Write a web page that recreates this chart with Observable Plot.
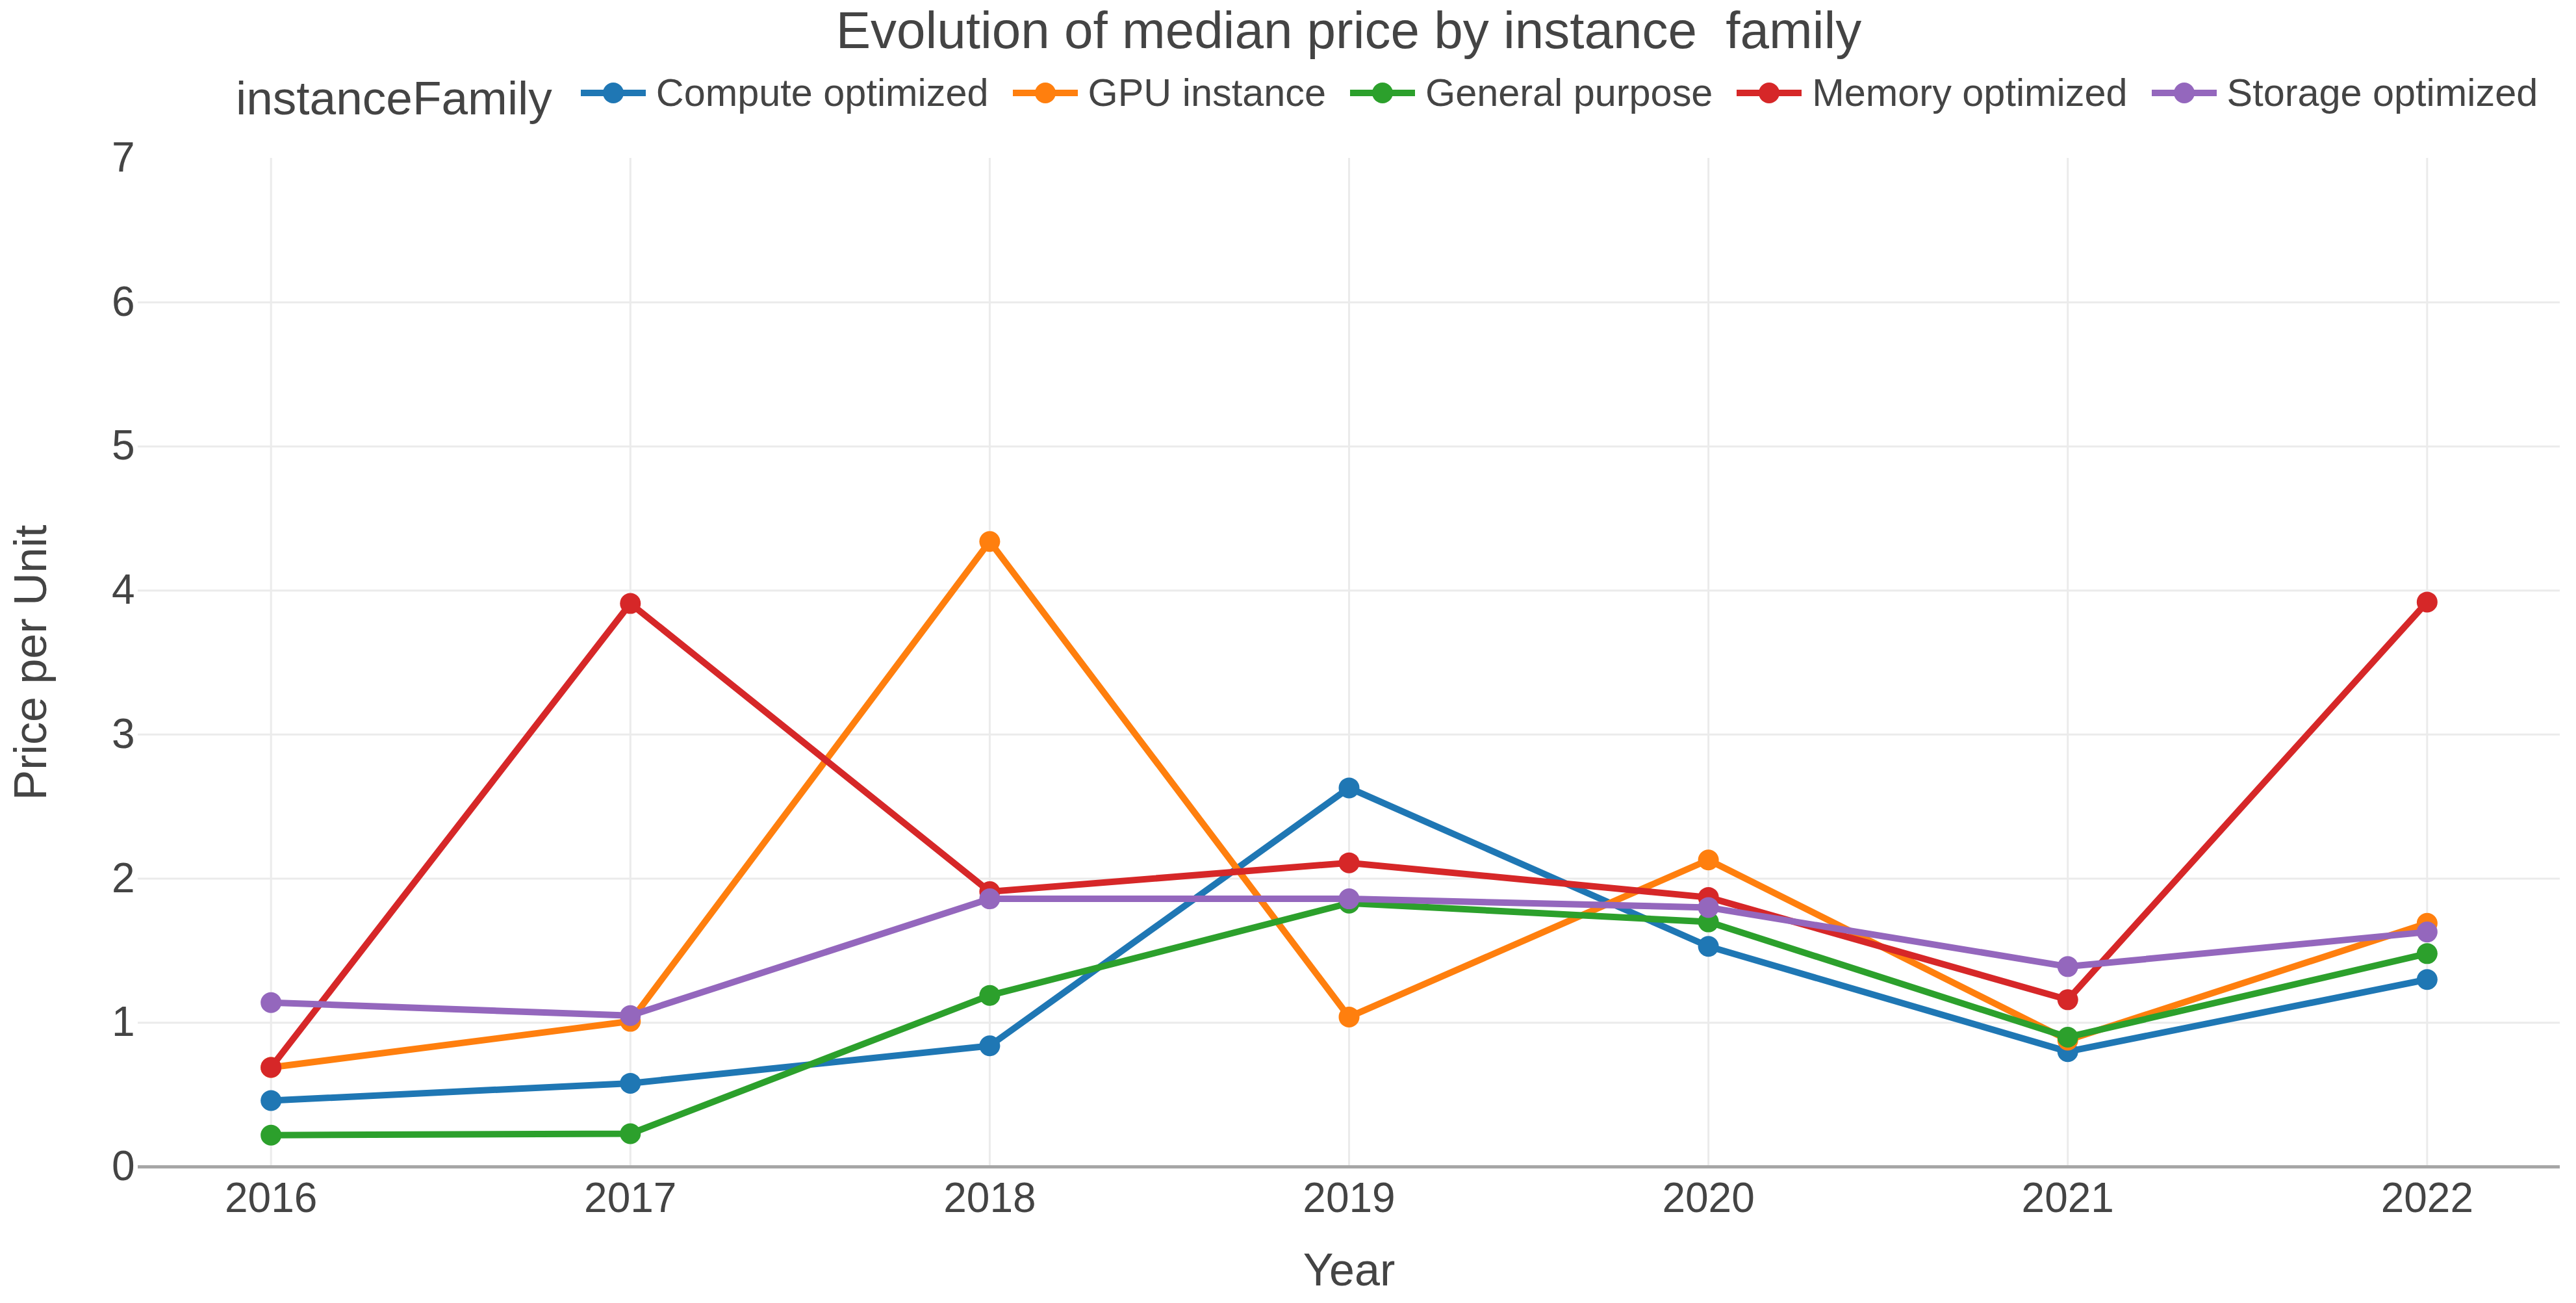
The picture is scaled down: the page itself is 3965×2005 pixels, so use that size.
<!DOCTYPE html>
<html>
<head>
<meta charset="utf-8">
<script src="https://cdn.jsdelivr.net/npm/d3@7"></script>
<script src="https://cdn.jsdelivr.net/npm/@observablehq/plot@0.6"></script>
<style>
  html, body { margin: 0; padding: 0; background: white; }
  body { font-family: "Liberation Sans", Arial, sans-serif; color: #444; }
  #header { position: relative; width: 3965px; height: 200px; }
  #title { position: absolute; left: 212px; width: 3728px; top: 7px; text-align: center; font-size: 80px; line-height: 1; white-space: pre; }
  #legend { position: absolute; left: 363px; top: 107px; height: 72px; display: flex; align-items: center; white-space: nowrap; }
  #legend .ltitle { font-size: 73px; line-height: 1; position: relative; top: 7px; margin-right: 44px; }
  #legend .item { display: flex; align-items: center; margin-right: 37px; }
  #legend .item span { font-size: 59.4px; line-height: 1; margin-left: 16px; }
</style>
</head>
<body>
<div id="header">
  <div id="title">Evolution of median price by instance  family</div>
  <div id="legend"></div>
</div>
<div id="chart"></div>
<script>
const years = [2016, 2017, 2018, 2019, 2020, 2021, 2022];
const families = ["Compute optimized", "GPU instance", "General purpose", "Memory optimized", "Storage optimized"];
const colors = ["#1f77b4", "#ff7f0e", "#2ca02c", "#d62728", "#9467bd"];
const computeOptimized = [0.46, 0.58, 0.84, 2.63, 1.53, 0.80, 1.30];
const gpuInstance      = [0.69, 1.01, 4.34, 1.04, 2.13, 0.88, 1.69];
const generalPurpose   = [0.22, 0.23, 1.19, 1.83, 1.70, 0.90, 1.48];
const memoryOptimized  = [0.69, 3.91, 1.91, 2.11, 1.87, 1.16, 3.92];
const storageOptimized = [1.14, 1.05, 1.86, 1.86, 1.80, 1.39, 1.63];
const yTicks = [0, 1, 2, 3, 4, 5, 6, 7];
const legendTitle = "instanceFamily";
const xLabel = "Year";
const yLabel = "Price per Unit";

const seriesValues = [computeOptimized, gpuInstance, generalPurpose, memoryOptimized, storageOptimized];
const table = [];
families.forEach((f, i) => years.forEach((y, j) => table.push({family: f, year: y, value: seriesValues[i][j]})));

// legend
const legend = d3.select("#legend");
legend.append("div").attr("class", "ltitle").text(legendTitle);
families.forEach((f, i) => {
  const item = legend.append("div").attr("class", "item");
  const svg = item.append("svg").attr("width", 100).attr("height", 40);
  svg.append("line").attr("x1", 0).attr("x2", 100).attr("y1", 20).attr("y2", 20)
    .attr("stroke", colors[i]).attr("stroke-width", 10);
  svg.append("circle").attr("cx", 50).attr("cy", 20).attr("r", 16).attr("fill", colors[i]);
  item.append("span").text(f);
});

const seriesMarks = [];
families.forEach((f, i) => {
  const d = table.filter(r => r.family === f);
  seriesMarks.push(Plot.line(d, {x: "year", y: "value", stroke: colors[i], strokeWidth: 10, strokeLinejoin: "round"}));
  seriesMarks.push(Plot.dot(d, {x: "year", y: "value", r: 16, fill: colors[i]}));
});

const chart = Plot.plot({
  width: 3965,
  height: 1805,
  marginTop: 43,
  marginBottom: 210,
  marginLeft: 212,
  marginRight: 25,
  x: {domain: [2015.63, 2022.37]},
  y: {domain: [0, 7]},
  style: {fontFamily: "'Liberation Sans', Arial, sans-serif", color: "#444", background: "white", overflow: "visible"},
  marks: [
    Plot.gridX(years, {stroke: "#ebebeb", strokeOpacity: 1, strokeWidth: 3}),
    Plot.gridY(yTicks.filter(d => d > 0 && d < 7), {stroke: "#ebebeb", strokeOpacity: 1, strokeWidth: 3}),
    Plot.ruleY([0], {stroke: "#a6a6a6", strokeWidth: 5}),
    Plot.axisX(years, {tickSize: 0, tickPadding: 24, fontSize: 64, tickFormat: d => String(d), label: null}),
    Plot.axisY(yTicks, {tickSize: 0, tickPadding: 5, fontSize: 64, tickFormat: d => String(d), label: null}),
    ...seriesMarks,
    Plot.text([xLabel], {frameAnchor: "bottom", textAnchor: "middle", lineAnchor: "middle", dy: 160, fontSize: 70, fill: "#444"}),
    Plot.text([yLabel], {frameAnchor: "left", textAnchor: "middle", lineAnchor: "middle", rotate: -90, dx: -164, fontSize: 70, fill: "#444"})
  ]
});
document.getElementById("chart").appendChild(chart);
</script>
</body>
</html>
